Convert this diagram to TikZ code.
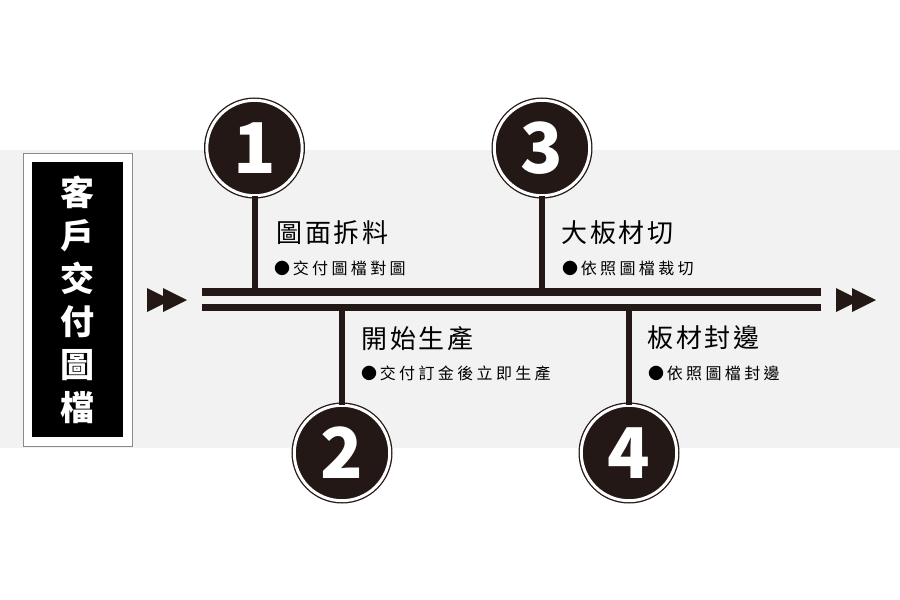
\documentclass[tikz,border=0pt]{standalone}
\usepackage{fontspec}
\setmainfont{Noto Sans CJK TC}
\definecolor{dark}{HTML}{231815}
\definecolor{band}{HTML}{F2F2F2}
\definecolor{boxline}{HTML}{8A8A8A}
\tikzset{
  mainline/.style={draw=dark, line width=7.5pt},
  stemline/.style={draw=dark, line width=6pt},
  numcirc/.style={circle, fill=dark, draw=dark, line width=1.3pt, double=white, double distance=3pt,
    minimum size=95.4pt, inner sep=0pt, text=white, font=\bfseries\fontsize{70}{70}\selectfont},
  headtext/.style={anchor=west, inner sep=0pt, text=black, font=\fontsize{26}{26}\selectfont\addfontfeature{LetterSpace=11}},
  subtext/.style={anchor=west, inner sep=0pt, text=black, font=\fontsize{16}{16}\selectfont\addfontfeature{LetterSpace=21}},
  tri/.style={fill=dark}
}
\begin{document}
\begin{tikzpicture}[x=1pt,y=-1pt]
\useasboundingbox (0,0) rectangle (900,600);
\fill[band] (0,150) rectangle (900,448);
% left box
\node[draw=boxline, fill=white, line width=1pt, minimum width=109pt, minimum height=293pt, inner sep=0pt] (outer) at (77.5,299.5) {};
\node[fill=black, minimum width=91pt, minimum height=275pt, inner sep=0pt] (inner) at (outer.center) {};
\node[text=white, inner sep=0pt, align=center, font=\bfseries\fontsize{34}{43}\selectfont] (title) at (outer.center) {客\\戶\\交\\付\\圖\\檔};
% main lines
\coordinate (L1) at (202,292);
\coordinate (R1) at (821,292);
\coordinate (L2) at (202,307.5);
\coordinate (R2) at (821,307.5);
\draw[mainline] (L1) -- (R1);
\draw[mainline] (L2) -- (R2);
% arrows
\fill[tri] (147,288) -- (171,300) -- (147,312) -- cycle;
\fill[tri] (163,288) -- (187,300) -- (163,312) -- cycle;
\fill[tri] (836,288) -- (860,300) -- (836,312) -- cycle;
\fill[tri] (852,288) -- (876,300) -- (852,312) -- cycle;
% circles
\node[numcirc] (c1) at (254.5,148) {1};
\node[numcirc] (c3) at (542,148) {3};
\node[numcirc] (c2) at (342,453) {2};
\node[numcirc] (c4) at (629,453) {4};
% stems
\draw[stemline] (c1.south) -- (c1.south |- L1);
\draw[stemline] (c3.south) -- (c3.south |- L1);
\draw[stemline] (c2.north) -- (c2.north |- L2);
\draw[stemline] (c4.north) -- (c4.north |- L2);
% texts
\node[headtext] (h1) at (276,233) {圖面拆料};
\node[subtext] (s1) at (274,268) {●\,交付圖檔對圖};
\node[headtext] (h3) at (561,233) {大板材切};
\node[subtext] (s3) at (562,268) {●\,依照圖檔裁切};
\node[headtext] (h2) at (361,339) {開始生產};
\node[subtext] (s2) at (361,373) {●\,交付訂金後立即生產};
\node[headtext] (h4) at (647,338) {板材封邊};
\node[subtext] (s4) at (648,373) {●\,依照圖檔封邊};
\end{tikzpicture}
\end{document}
